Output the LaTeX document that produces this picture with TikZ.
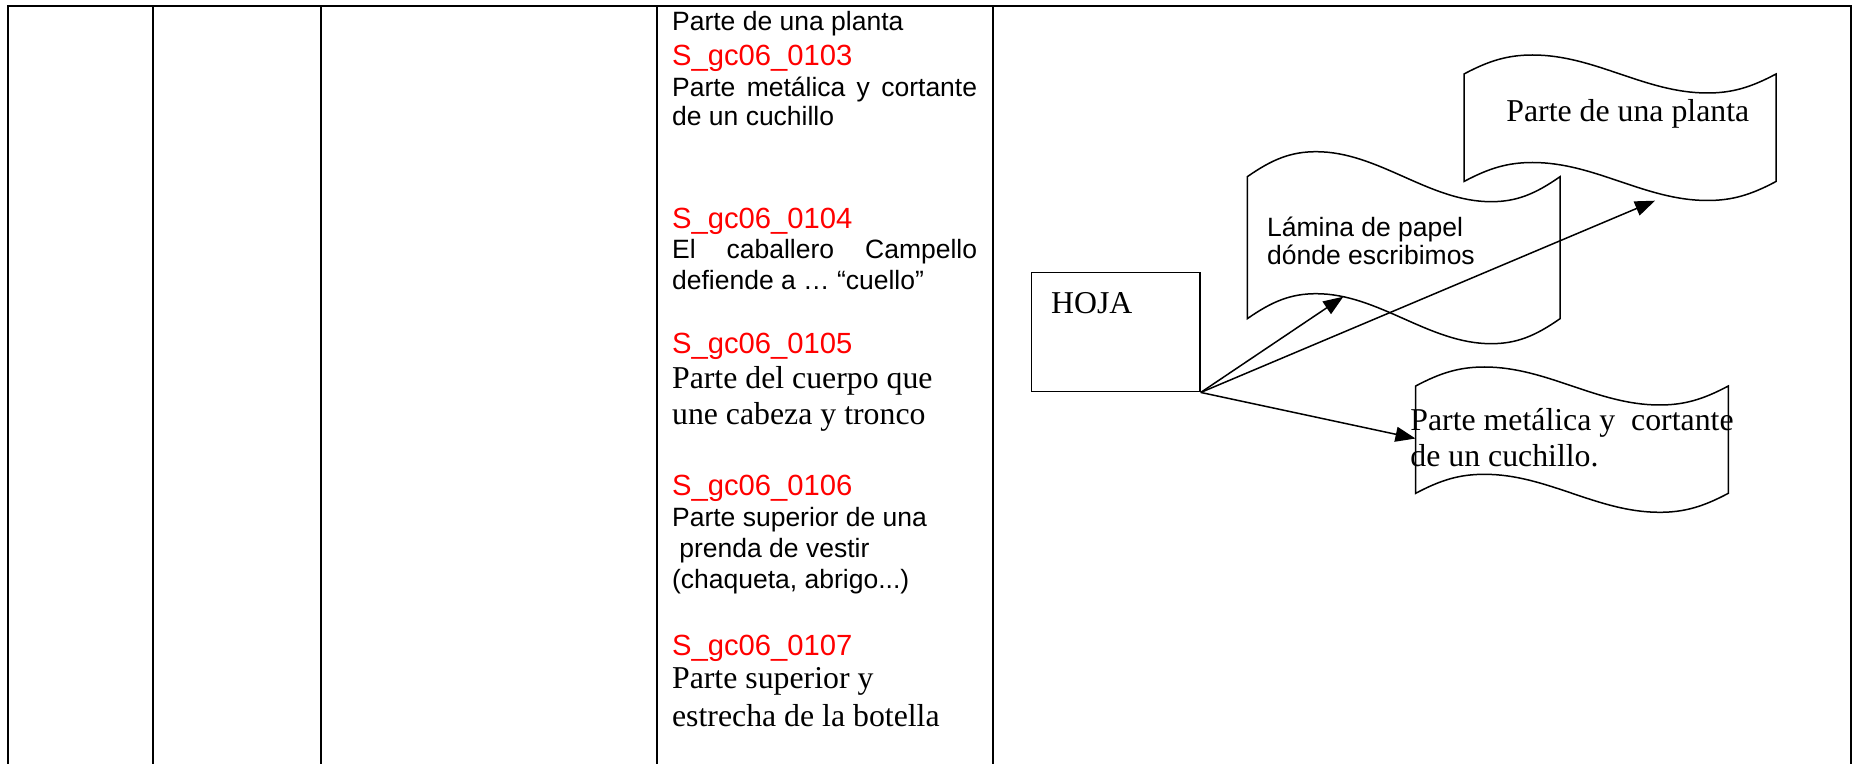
\documentclass[tikz,border=0pt]{standalone}
\usepackage{fontspec}
\setmainfont{Liberation Serif}
\newfontfamily\arialfont{Liberation Sans}
\usetikzlibrary{arrows.meta}

\definecolor{codered}{RGB}{255,0,0}

% wavy sheet: left x, top y, width, height, wave depth
\newcommand{\wavebox}[5]{%
  \draw[waveline,shift={(#1,#2)}]
    (0,0) .. controls ({0.08*#3},{-0.7*#5}) and ({0.14*#3},{-#5}) .. ({0.22*#3},{-#5})
    .. controls ({0.42*#3},{-#5}) and ({0.58*#3},{#5}) .. ({0.78*#3},{#5})
    .. controls ({0.86*#3},{#5}) and ({0.92*#3},{0.7*#5}) .. (#3,0)
    -- (#3,#4)
    .. controls ({0.92*#3},{#4+0.7*#5}) and ({0.86*#3},{#4+#5}) .. ({0.78*#3},{#4+#5})
    .. controls ({0.58*#3},{#4+#5}) and ({0.42*#3},{#4-#5}) .. ({0.22*#3},{#4-#5})
    .. controls ({0.14*#3},{#4-#5}) and ({0.08*#3},{#4-0.7*#5}) .. (0,#4)
    -- cycle;}

\begin{document}
\begin{tikzpicture}[x=0.5pt,y=-0.5pt,
        every node/.style={anchor=base west,inner sep=0pt},
        grid/.style={line width=1pt},
        waveline/.style={line width=0.75pt},
        arial/.style={font=\arialfont\fontsize{13.25}{15}\selectfont},
        codelbl/.style={font=\arialfont\fontsize{14.6}{17}\selectfont,text=codered},
        times/.style={font=\fontsize{15.9}{18}\selectfont},
        hojabox/.style={draw,line width=0.75pt,anchor=center,minimum width=84.15pt,minimum height=59.7pt},
        link/.style={line width=0.75pt,-{Triangle[length=10pt,width=7.5pt]}}]
            \useasboundingbox (0,0) rectangle (1852,764);
            
            % table
            \draw[grid] (8.3,764) -- (8.3,5.7) -- (1852,5.7);
            \draw[grid] (152.7,5.7) -- (152.7,764);
            \draw[grid] (320.5,5.7) -- (320.5,764);
            \draw[grid] (656.7,5.7) -- (656.7,764);
            \draw[grid] (992.7,5.7) -- (992.7,764);
            \draw[grid] (1851,5.7) -- (1851,764);
            
            % meanings column
            \node[arial] (c1) at (671.7,30.7) {Parte de una planta};
            \node[codelbl] (c2) at (671.7,65.7) {S\_gc06\_0103};
            \node[arial] (c3) at (671.7,96.7) {\makebox[152.5pt][s]{Parte metálica y cortante}};
            \node[arial] (c4) at (671.7,126) {de un cuchillo};
            \node[codelbl] (c5) at (671.7,228.3) {S\_gc06\_0104};
            \node[arial] (c6) at (671.7,258.3) {\makebox[152.5pt][s]{El caballero Campello}};
            \node[arial] (c7) at (671.7,289.3) {defiende a … “cuello”};
            \node[codelbl] (c8) at (671.7,353.3) {S\_gc06\_0105};
            \node[times] (c9) at (671.7,388.3) {Parte del cuerpo que};
            \node[times] (c10) at (671.7,424) {une cabeza y tronco};
            \node[codelbl] (c11) at (671.7,495) {S\_gc06\_0106};
            \node[arial] (c12) at (671.7,526.7) {Parte superior de una};
            \node[arial] (c13) at (679,557.3) {prenda de vestir};
            \node[arial] (c14) at (671.7,588.3) {(chaqueta, abrigo...)};
            \node[codelbl] (c15) at (671.7,655) {S\_gc06\_0107};
            \node[times] (c16) at (671.7,688.3) {Parte superior y};
            \node[times] (c17) at (671.7,726.7) {estrecha de la botella};
            
            % map
            \node[hojabox] (hoja) at (1115.85,332) {};
            \node[times] (hojalbl) at (1050.7,313.3) {HOJA};
            
            \wavebox{1247.3}{176.7}{312.7}{142}{25}
            \node[arial] (lam1) at (1266.7,236.7) {Lámina de papel};
            \node[arial] (lam2) at (1266.7,265) {dónde escribimos};
            
            \wavebox{1464}{74}{312}{107.5}{19}
            \node[times] (planta) at (1506,121.7) {Parte de una planta};
            
            \wavebox{1415.7}{386}{312.6}{107.3}{19}
            \node[times] (met1) at (1410,430) {Parte metálica y~ cortante};
            \node[times] (met2) at (1410,466.7) {de un cuchillo.};
            
            \coordinate (laminatip) at (1343.3,296.7);
            \coordinate (plantatip) at (1655,200.7);
            \coordinate (metaltip) at (1415.5,438.5);
            
            \path [link] (hoja.south east) edge (laminatip);
            \path [link] (hoja.south east) edge (plantatip);
            \path [link] (hoja.south east) edge (metaltip);
        \end{tikzpicture}
\end{document}
